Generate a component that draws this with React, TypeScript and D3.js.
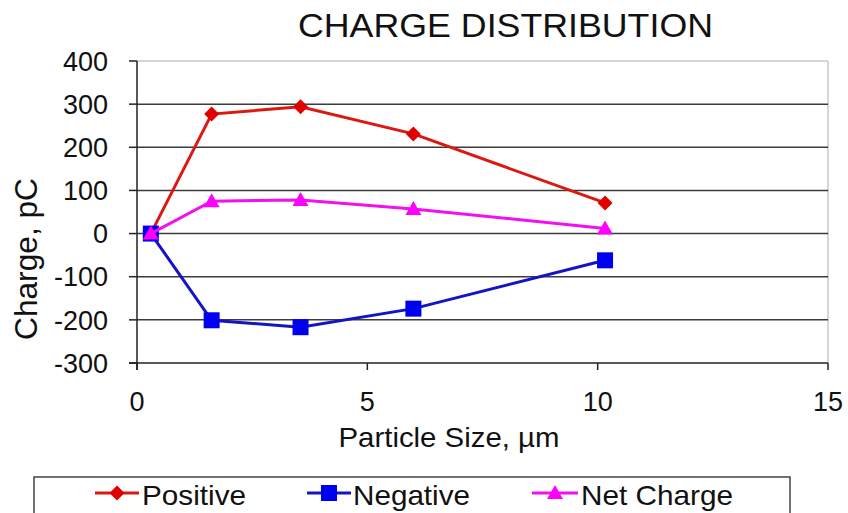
import React from "react";
import * as d3 from "d3";

const sizes = [0.3, 1.62, 3.55, 6.0, 10.16];
const positive = [0, 277, 294, 231, 71];
const negative = [0, -201, -217, -174, -62];
const netCharge = [0, 75, 78, 57, 12];
const yTicks = [400, 300, 200, 100, 0, -100, -200, -300];
const xTicks = [0, 5, 10, 15];
const seriesNames = ["Positive", "Negative", "Net Charge"];
const seriesColors = ["#dc1812", "#1414c4", "#f010f0"];
const markerColors = ["#e00000", "#0000f0", "#ff00ff"];

const W = 848;
const H = 513;
const L = 137, R = 828, T = 61, B = 363;

function Marker({ kind, x, y, color }: { kind: number; x: number; y: number; color: string }) {
  if (kind === 0) {
    const s = 7.5;
    return <path d={`M${x},${y - s}L${x + s},${y}L${x},${y + s}L${x - s},${y}Z`} fill={color} />;
  }
  if (kind === 1) {
    const s = 8;
    return <rect x={x - s} y={y - s} width={2 * s} height={2 * s} fill={color} />;
  }
  const s = 8;
  return <path d={`M${x},${y - s}L${x + s},${y + 6}L${x - s},${y + 6}Z`} fill={color} />;
}

export default function App() {
  const x = d3.scaleLinear().domain([0, 15]).range([L, R]);
  const y = d3.scaleLinear().domain([-300, 400]).range([B, T]);
  const allSeries = [positive, negative, netCharge];
  const line = d3
    .line<[number, number]>()
    .x((d) => x(d[0]))
    .y((d) => y(d[1]));
  const font = "Arial, 'Liberation Sans', sans-serif";

  return (
    <svg width={W} height={H} style={{ position: "absolute", left: 0, top: 0, background: "#fff" }} fontFamily={font}>
      <rect x={0} y={0} width={W} height={H} fill="#fff" />
      <text x={505.5} y={37} textAnchor="middle" fontSize={34} fill="#111" textLength={415} lengthAdjust="spacingAndGlyphs">
        CHARGE DISTRIBUTION
      </text>
      {/* plot border */}
      <line x1={L} x2={R} y1={T} y2={T} stroke="#c8c8c8" strokeWidth={1.5} />
      <line x1={R} x2={R} y1={T} y2={B} stroke="#c8c8c8" strokeWidth={1.5} />
      {/* gridlines */}
      {yTicks.filter((t) => t !== 400 && t !== -300).map((t) => (
        <line key={"g" + t} x1={L} x2={R} y1={y(t)} y2={y(t)} stroke="#3c3c3c" strokeWidth={1.5} />
      ))}
      {/* axes */}
      <line x1={L} x2={L} y1={T} y2={B + 7} stroke="#222" strokeWidth={1.5} />
      <line x1={L - 8} x2={R} y1={B} y2={B} stroke="#222" strokeWidth={1.5} />
      {yTicks.map((t) => (
        <g key={"yt" + t}>
          <line x1={L - 8} x2={L} y1={y(t)} y2={y(t)} stroke="#222" strokeWidth={1.5} />
          <text x={108} y={y(t)} dy="0.36em" textAnchor="end" fontSize={27} fill="#111">
            {t}
          </text>
        </g>
      ))}
      {xTicks.map((t) => (
        <g key={"xt" + t}>
          <line x1={x(t)} x2={x(t)} y1={B} y2={B + 7} stroke="#222" strokeWidth={1.5} />
          <text x={x(t)} y={411} textAnchor="middle" fontSize={27} fill="#111">
            {t}
          </text>
        </g>
      ))}
      <text x={449} y={447} textAnchor="middle" fontSize={28} fill="#111" textLength={221} lengthAdjust="spacingAndGlyphs">
        Particle Size, µm
      </text>
      <text
        transform={`translate(37,259) rotate(-90)`}
        textAnchor="middle"
        fontSize={32}
        fill="#111"
        textLength={162}
        lengthAdjust="spacingAndGlyphs"
      >
        Charge, pC
      </text>
      {/* series */}
      {allSeries.map((vals, i) => {
        const pts: [number, number][] = sizes.map((s, j) => [s, vals[j]]);
        return (
          <g key={"s" + i}>
            <path d={line(pts) || ""} fill="none" stroke={seriesColors[i]} strokeWidth={3} />
            {pts.map((p, j) => (
              <Marker key={j} kind={i} x={x(p[0])} y={y(p[1])} color={markerColors[i]} />
            ))}
          </g>
        );
      })}
      {/* legend */}
      <rect x={34} y={477} width={756} height={50} fill="#fff" stroke="#444" strokeWidth={1.5} />
      {[
        { x0: 95, x1: 139, tx: 142, tw: 104 },
        { x0: 307, x1: 351, tx: 353, tw: 117 },
        { x0: 532, x1: 578, tx: 581, tw: 152 },
      ].map((it, i) => (
        <g key={"lg" + i}>
          <line x1={it.x0} x2={it.x1} y1={493} y2={493} stroke={seriesColors[i]} strokeWidth={3} />
          <Marker kind={i} x={(it.x0 + it.x1) / 2} y={493} color={markerColors[i]} />
          <text x={it.tx} y={505} fontSize={28} fill="#111" textLength={it.tw} lengthAdjust="spacingAndGlyphs">
            {seriesNames[i]}
          </text>
        </g>
      ))}
    </svg>
  );
}
